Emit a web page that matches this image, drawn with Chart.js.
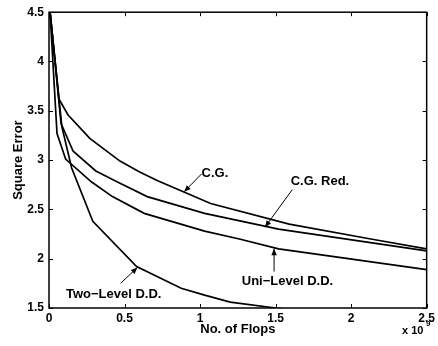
<!DOCTYPE html>
<html>
<head>
<meta charset="utf-8">
<script src="https://cdn.jsdelivr.net/npm/chart.js@4"></script>
<style>
  html, body { margin: 0; padding: 0; background: #fff; }
  #wrap { width: 438px; height: 346px; }
</style>
</head>
<body>
<div id="wrap"><canvas id="chart"></canvas></div>
<script>
// flops (x 10^9) and square error
const cgX = [0.007, 0.066, 0.125, 0.27, 0.47, 0.6, 0.72, 1.07, 1.59, 2.13, 2.5];
const cgY = [4.5, 3.62, 3.46, 3.22, 2.99, 2.88, 2.79, 2.56, 2.35, 2.2, 2.1];

const cgRedX = [0.007, 0.08, 0.16, 0.31, 0.45, 0.65, 1.03, 1.52, 2.5];
const cgRedY = [4.5, 3.37, 3.09, 2.89, 2.78, 2.63, 2.46, 2.3, 2.08];

const uniX = [0.007, 0.053, 0.11, 0.28, 0.42, 0.63, 1.03, 1.26, 1.52, 2.5];
const uniY = [4.5, 3.27, 3.01, 2.78, 2.63, 2.46, 2.28, 2.2, 2.1, 1.89];

const twoX = [0.007, 0.085, 0.15, 0.29, 0.58, 0.875, 1.03, 1.2, 1.5, 1.75];
const twoY = [4.5, 3.34, 2.92, 2.38, 1.92, 1.7, 1.63, 1.56, 1.5, 1.46];

const xTicks = [0, 0.5, 1, 1.5, 2, 2.5];
const yTicks = [1.5, 2, 2.5, 3, 3.5, 4, 4.5];

// text labels with arrows (data coords: text anchor, arrow tail, arrow tip)
const notes = [
  { text: 'C.G.',            tx: 1.01,  ty: 2.86, ax: 1.01, ay: 2.86, bx: 0.895, by: 2.68 },
  { text: 'C.G. Red.',       tx: 1.6,   ty: 2.78, ax: 1.61, ay: 2.7,  bx: 1.43,  by: 2.32 },
  { text: 'Uni\u2212Level D.D.', tx: 1.276, ty: 1.77, ax: 1.49, ay: 1.87, bx: 1.49, by: 2.1 },
  { text: 'Two\u2212Level D.D.', tx: 0.112, ty: 1.64, ax: 0.474, ay: 1.75, bx: 0.585, by: 1.91 }
];

const FONT = '"Liberation Sans", Arial, Helvetica, sans-serif';

function pts(xs, ys) { return xs.map((x, i) => ({ x, y: ys[i] })); }

function series(label, xs, ys) {
  return {
    label, data: pts(xs, ys),
    borderColor: '#000', borderWidth: 1.7,
    pointRadius: 0, tension: 0, fill: false
  };
}

const frame = {
  id: 'frame',
  afterDatasetsDraw(chart) {
    const { ctx, chartArea: a, scales: { x, y } } = chart;
    ctx.save();
    ctx.strokeStyle = '#000';
    ctx.lineWidth = 1.5;
    ctx.strokeRect(a.left, a.top, a.right - a.left, a.bottom - a.top);

    // inward ticks on all four sides
    ctx.lineWidth = 1;
    const tl = 4;
    ctx.beginPath();
    xTicks.forEach(v => {
      const px = Math.round(x.getPixelForValue(v)) + 0.5;
      ctx.moveTo(px, a.bottom); ctx.lineTo(px, a.bottom - tl);
      ctx.moveTo(px, a.top); ctx.lineTo(px, a.top + tl);
    });
    yTicks.forEach(v => {
      const py = Math.round(y.getPixelForValue(v)) + 0.5;
      ctx.moveTo(a.left, py); ctx.lineTo(a.left + tl, py);
      ctx.moveTo(a.right, py); ctx.lineTo(a.right - tl, py);
    });
    ctx.stroke();

    // annotations
    ctx.fillStyle = '#000';
    ctx.font = 'bold 13px ' + FONT;
    ctx.textBaseline = 'middle';
    ctx.textAlign = 'left';
    notes.forEach(n => {
      ctx.fillText(n.text, x.getPixelForValue(n.tx), y.getPixelForValue(n.ty));
      const x0 = x.getPixelForValue(n.ax), y0 = y.getPixelForValue(n.ay);
      const x1 = x.getPixelForValue(n.bx), y1 = y.getPixelForValue(n.by);
      const ang = Math.atan2(y1 - y0, x1 - x0);
      ctx.beginPath();
      ctx.moveTo(x0, y0); ctx.lineTo(x1, y1);
      ctx.stroke();
      const h = 7, w = 0.4;
      ctx.beginPath();
      ctx.moveTo(x1, y1);
      ctx.lineTo(x1 - h * Math.cos(ang - w), y1 - h * Math.sin(ang - w));
      ctx.lineTo(x1 - h * Math.cos(ang + w), y1 - h * Math.sin(ang + w));
      ctx.closePath();
      ctx.fill();
    });

    // exponent label
    ctx.font = 'bold 11px ' + FONT;
    ctx.textBaseline = 'alphabetic';
    ctx.fillText('x 10', 402, 334);
    ctx.font = 'bold 8px ' + FONT;
    ctx.fillText('9', 426, 326);
    ctx.restore();
  }
};

new Chart(document.getElementById('chart'), {
  type: 'line',
  data: {
    datasets: [
      series('C.G.', cgX, cgY),
      series('C.G. Red.', cgRedX, cgRedY),
      series('Uni-Level D.D.', uniX, uniY),
      series('Two-Level D.D.', twoX, twoY)
    ]
  },
  options: {
    responsive: true,
    maintainAspectRatio: false,
    animation: false,
    layout: { padding: { left: 0, right: 9, top: 9, bottom: 0 } },
    plugins: { legend: { display: false }, tooltip: { enabled: false } },
    scales: {
      x: {
        type: 'linear', min: 0, max: 2.5,
        afterBuildTicks: s => { s.ticks = xTicks.map(v => ({ value: v })); },
        afterFit: s => { s.height = 38; },
        grid: { display: false, tickLength: 0 },
        border: { display: false },
        ticks: { color: '#000', padding: 3, maxRotation: 0, callback: v => String(v),
                 font: { family: FONT, size: 12, weight: 'bold' } },
        title: { display: true, text: 'No. of Flops', color: '#000', padding: { top: 0, bottom: 9 },
                 font: { family: FONT, size: 13, weight: 'bold' } }
      },
      y: {
        type: 'linear', min: 1.5, max: 4.5,
        afterBuildTicks: s => { s.ticks = yTicks.map(v => ({ value: v })); },
        afterFit: s => { s.width = 49; },
        grid: { display: false, tickLength: 0 },
        border: { display: false },
        ticks: { color: '#000', padding: 5, callback: v => String(v),
                 font: { family: FONT, size: 12, weight: 'bold' } },
        title: { display: true, text: 'Square Error', color: '#000', padding: { top: 11, bottom: 0 },
                 font: { family: FONT, size: 13, weight: 'bold' } }
      }
    }
  },
  plugins: [frame]
});
</script>
</body>
</html>
